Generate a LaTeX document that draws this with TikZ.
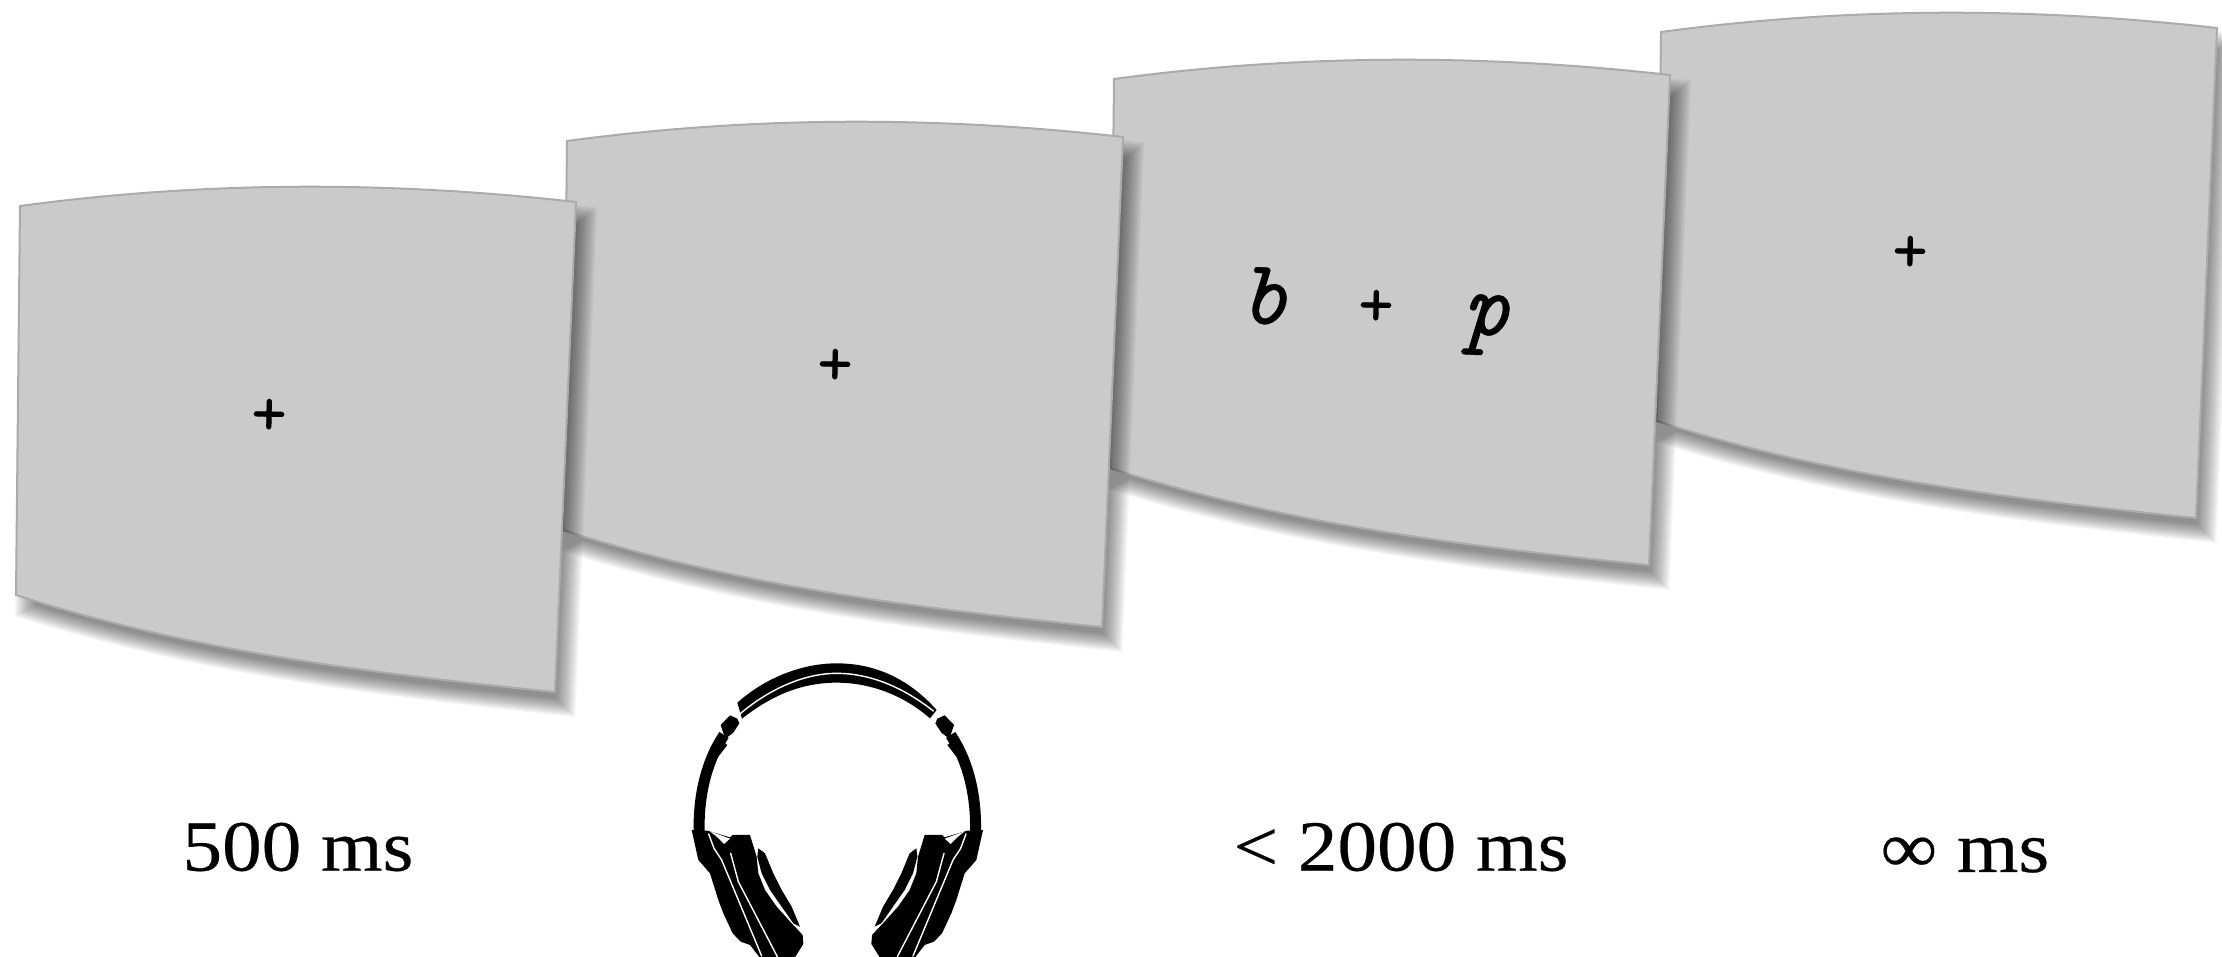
\documentclass[tikz,border=0pt]{standalone}
\usepackage{fontspec}
\newfontfamily\lblf[FakeStretch=1.1,FakeBold=0.35]{Liberation Serif}
\newfontfamily\stim[FakeBold=1.2]{Latin Modern Mono}
\newfontfamily\stimit[FakeBold=0.5]{Latin Modern Mono}
\tikzset{
  scrfill/.style={fill=scrgray,draw=scredge,line width=2pt,line join=miter},
  lbl/.style={inner sep=0pt,font=\lblf\fontsize{72}{80}\selectfont,text=black},
  stimfix/.style={inner sep=0pt,font=\stim\fontsize{68}{70}\selectfont,text=black,rotate=-1},
  stimlet/.style={inner sep=0pt,font=\stimit\itshape\fontsize{92}{96}\selectfont,text=black,rotate=-3},
  whl/.style={draw=white,line width=1.4pt,line cap=round,line join=round},
  band/.style={draw=black,line cap=butt,line join=round}
}
\definecolor{scrgray}{HTML}{CACACA}
\definecolor{scredge}{HTML}{ABABAB}
\newcommand{\scrpath}{(20,205) .. controls (205,180) and (391,180) .. (576,201)
  -- (555,691) .. controls (370,672) and (190,650) .. (16,594) -- cycle}
\newcommand{\scr}[2]{%
  \begin{scope}[shift={(#1,#2)}]
    \foreach \s in {1.040,1.035,1.030,1.025,1.020,1.015,1.010,1.005,1.000,0.995,0.990,0.985,0.980,0.975,0.970,0.965}
      \fill[black,opacity=0.036,shift={(305,455)},scale=\s,shift={(-295,-440)}] \scrpath;
    \draw[scrfill] \scrpath;
  \end{scope}}
\newcommand{\earcup}{%
  \fill[black,line join=round] (125,570) -- (172,572) -- (240,592) -- (248,585) -- (300,585) -- (320,650)
    -- (325,700) -- (345,750) -- (380,800) -- (425,850) -- (458,885) -- (460,912) -- (430,960) -- (335,960) -- (300,915) -- (272,905)
    -- (248,880) -- (220,820) -- (205,780) -- (180,700) -- (145,660) -- (135,615) -- cycle;
  \fill[black,line join=round] (325,625) -- (345,640) -- (370,700) -- (395,750) -- (425,800) -- (450,860)
    -- (430,850) -- (395,800) -- (360,750) -- (335,700) -- (322,650) -- cycle;
  \draw[whl] (176,582) -- (192,625) -- (215,660) -- (335,948);
  \draw[whl] (242,640) -- (265,725) -- (382,950);
  \fill[white] (180,574) -- (240,596) -- (222,612) -- (200,590) -- cycle;
  \draw[band,line width=11pt] (148,590) .. controls (143,480) and (165,370) .. (222,285);
  \fill[black] (212,255) -- (240,226) -- (262,236) -- (268,250) -- (250,278) -- (226,296) -- cycle;
  \fill[black] (190,320) -- (212,300) -- (232,315) -- (205,350) -- cycle;
}
\begin{document}
\begin{tikzpicture}[x=1pt,y=-1pt]
\useasboundingbox (0,0) rectangle (2222,956);
\scr{1641}{-173}
\scr{1094}{-126}
\scr{547}{-64}
\scr{0}{1}
\node[stimfix] (f1) at (269,417) {+};
\node[stimfix] (f2) at (835,367) {+};
\node[stimfix] (f3) at (1376,308) {+};
\node[stimfix] (f4) at (1910,254) {+};
\node[stimlet] (b) at (1265,296) {b};
\node[stimlet] (p) at (1486,325) {p};
\node[lbl] (t1) at (298,847) {500 ms};
\node[lbl] (t3) at (1401,847) {< 2000 ms};
\node[lbl] (t4) at (1965,855) {∞ ms};
% headphones
\begin{scope}[shift={(650,640)},x=0.3333pt,y=-0.3333pt]
  \earcup
  \fill[black] (262,188) .. controls (350,110) and (460,70) .. (560,70)
    .. controls (680,70) and (780,120) .. (860,210) -- (840,235)
    .. controls (760,165) and (660,128) .. (560,128)
    .. controls (450,128) and (360,170) .. (276,236) -- cycle;
  \draw[whl] (265,226) .. controls (340,160) and (450,100) .. (560,100)
    .. controls (670,100) and (770,150) .. (850,213);
\end{scope}
\begin{scope}[shift={(1024.67,640)},x=-0.3333pt,y=-0.3333pt]
  \earcup
\end{scope}
\end{tikzpicture}
\end{document}
